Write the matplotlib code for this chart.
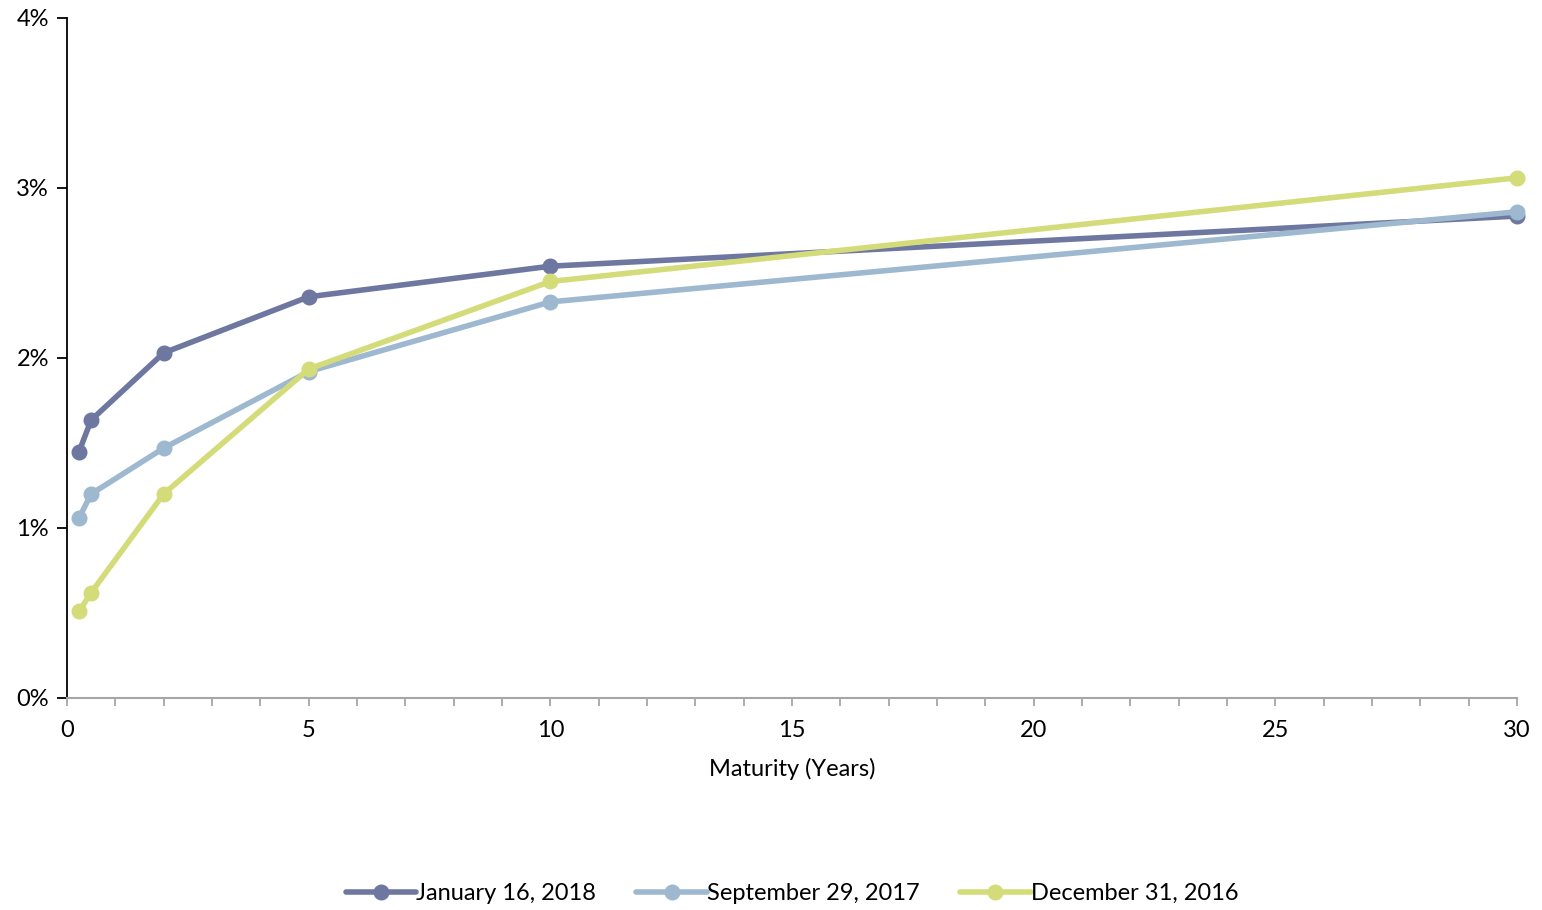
import matplotlib.pyplot as plt
from matplotlib.ticker import MultipleLocator, FuncFormatter

plt.rcParams['font.family'] = ['Lato', 'DejaVu Sans']

maturity = [0.25, 0.5, 2, 5, 10, 30]
jan_2018 = [1.45, 1.635, 2.03, 2.36, 2.54, 2.835]
sep_2017 = [1.06, 1.20, 1.47, 1.92, 2.33, 2.86]
dec_2016 = [0.51, 0.62, 1.20, 1.935, 2.45, 3.06]

labels = ['January 16, 2018', 'September 29, 2017', 'December 31, 2016']
colors = ['#6E77A0', '#9DB8CF', '#D4DC7A']

fig = plt.figure(figsize=(15.42, 9.10), dpi=100)
ax = fig.add_axes([67 / 1542, 1 - 698 / 910, 1450 / 1542, 680 / 910])

for ys, lab, col in zip([jan_2018, sep_2017, dec_2016], labels, colors):
    ax.plot(maturity, ys, color=col, lw=4.0, marker='o', ms=10.5, label=lab,
            solid_capstyle='round', clip_on=False)

ax.set_xlim(0, 30)
ax.set_ylim(0, 4)
ax.xaxis.set_major_locator(MultipleLocator(5))
ax.xaxis.set_minor_locator(MultipleLocator(1))
ax.yaxis.set_major_locator(MultipleLocator(1))
ax.yaxis.set_major_formatter(FuncFormatter(lambda v, p: '%d%%' % v))

for s in ['top', 'right']:
    ax.spines[s].set_visible(False)
ax.spines['left'].set_color('black')
ax.spines['left'].set_linewidth(1.3)
ax.spines['bottom'].set_color('#A6A6A6')
ax.spines['bottom'].set_linewidth(1.5)

ax.tick_params(axis='y', direction='out', length=7, width=1.3, colors='black',
               labelsize=17, pad=6)
ax.tick_params(axis='x', which='both', direction='out', length=6, width=1.3,
               color='#A6A6A6', labelcolor='black', labelsize=17, pad=10)

ax.set_xlabel('Maturity (Years)', fontsize=17, labelpad=12)

ax.legend(loc='center', bbox_to_anchor=(0.5, -0.288), ncol=3, frameon=False,
          fontsize=17, handlelength=3.0, handletextpad=0.0, columnspacing=1.7)

fig.savefig('out.png', dpi=100)
